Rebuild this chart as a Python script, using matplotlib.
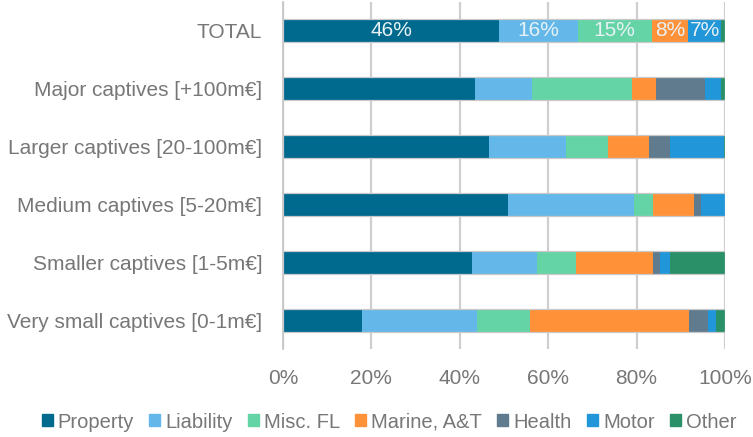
import matplotlib
matplotlib.use("Agg")
import matplotlib.pyplot as plt
import numpy as np

categories = ["TOTAL", "Major captives [+100m€]", "Larger captives [20-100m€]",
              "Medium captives [5-20m€]", "Smaller captives [1-5m€]",
              "Very small captives [0-1m€]"]
series_names = ["Property", "Liability", "Misc. FL", "Marine, A&T", "Health", "Motor", "Other"]
property_ = [48.9, 43.4, 46.7, 50.8, 42.7, 17.9]
liability = [17.8, 12.9, 17.3, 28.5, 14.7, 26.1]
misc_fl = [16.7, 22.6, 9.6, 4.5, 9.0, 11.9]
marine = [8.3, 5.6, 9.3, 9.1, 17.2, 36.0]
health = [0.0, 11.0, 4.7, 1.7, 1.7, 4.3]
motor = [7.5, 3.7, 12.25, 5.35, 2.3, 1.8]
other = [0.8, 0.8, 0.15, 0.15, 12.4, 2.0]
total_labels = ["46%", "16%", "15%", "8%", "7%"]
total_label_series = [0, 1, 2, 3, 5]
xticks = [0, 20, 40, 60, 80, 100]
xtick_labels = ["0%", "20%", "40%", "60%", "80%", "100%"]

colors = ["#006a8e", "#63b8e9", "#64d4a7", "#ff9138", "#5f7b8d", "#2196d9", "#2a9068"]
text_color = "#777777"
font = ["Liberation Sans", "DejaVu Sans"]
plt.rcParams["font.family"] = font

fig = plt.figure(figsize=(7.53, 4.37), dpi=100)
W, H = 753, 437
ax = fig.add_axes([283 / W, 1 - 349.25 / H, (725 - 283) / W, (349.25 - 1.75) / H])

data = np.array([property_, liability, misc_fl, marine, health, motor, other])
y = np.arange(len(categories))
left = np.zeros(len(categories))
bar_h = 0.40
for i, name in enumerate(series_names):
    ax.barh(y, data[i], left=left, height=bar_h, color=colors[i], label=name,
            edgecolor="none", zorder=3)
    left = left + data[i]
# outline of each whole bar
ax.barh(y, left, height=bar_h, left=0, color="none", edgecolor="#c9c9c9",
        linewidth=0.9, zorder=4)

# data labels on TOTAL
for lab, si in zip(total_labels, total_label_series):
    start = data[:si, 0].sum()
    ax.text(start + data[si, 0] / 2, 0, lab, ha="center", va="center",
            color="#e8f1f4", fontsize=15, zorder=5)

ax.set_ylim(len(categories) - 0.5, -0.5)
ax.set_xlim(0, 100)
ax.set_yticks(y)
ax.set_yticklabels(categories, fontsize=15, color=text_color)
ax.set_xticks(xticks)
ax.set_xticklabels(xtick_labels, fontsize=15, color=text_color)
ax.tick_params(axis="y", length=0, pad=15)
ax.tick_params(axis="x", length=0, pad=14)
ax.grid(axis="x", color="#cfcfcf", linewidth=1.6, zorder=0)
for s in ["top", "right", "bottom"]:
    ax.spines[s].set_visible(False)
ax.spines["left"].set_color("#c4c4c4")
ax.spines["left"].set_linewidth(1.2)

handles = [plt.Rectangle((0, 0), 1, 1, color=c) for c in colors]
leg = fig.legend(handles, series_names, loc="center", bbox_to_anchor=(389 / W, 1 - 422 / H),
                 ncol=7, frameon=False, handlelength=0.55, handleheight=0.55,
                 handletextpad=0.25, columnspacing=0.75,
                 prop={"family": ["Liberation Sans Narrow", "Liberation Sans", "DejaVu Sans"], "size": 14.5})
for t in leg.get_texts():
    t.set_color(text_color)

fig.savefig("out.png", dpi=100)
